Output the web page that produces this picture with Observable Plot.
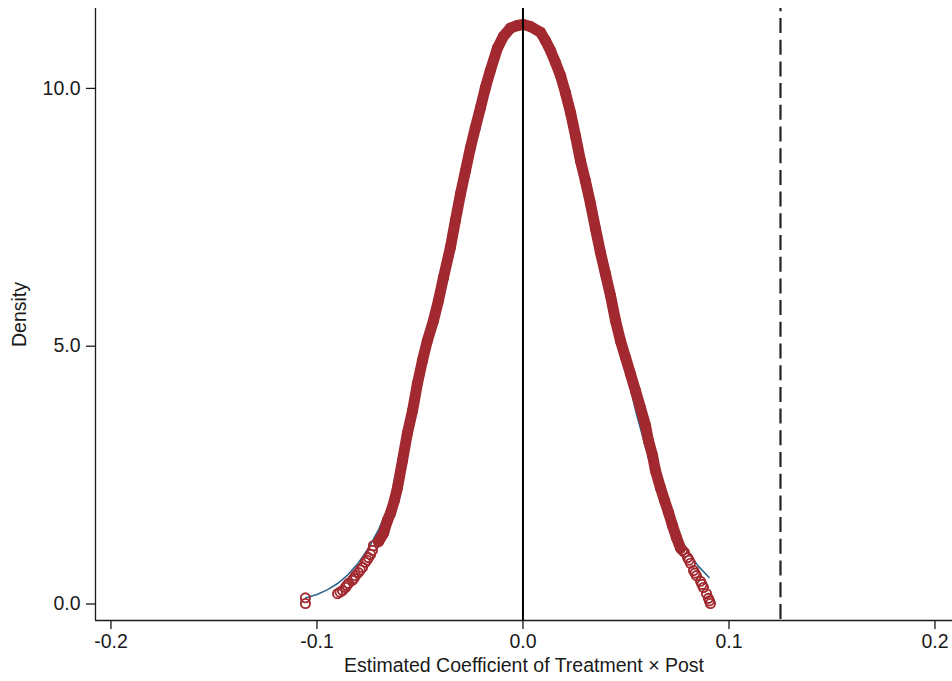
<!DOCTYPE html>
<html>
<head>
<meta charset="utf-8">
<script src="https://cdn.jsdelivr.net/npm/d3@7"></script>
<script src="https://cdn.jsdelivr.net/npm/@observablehq/plot@0.6"></script>
<style>
  html, body { margin: 0; padding: 0; background: #fff; }
  #chart svg { display: block; }
</style>
</head>
<body>
<div id="chart"></div>
<script>
// ---- data ----
const xTicks = [-0.2, -0.1, 0.0, 0.1, 0.2];
const yTicks = [0, 5, 10];
const xDomain = [-0.2075, 0.2085];
const yDomain = [-0.32, 11.55];
const zeroLine = [0];
const cutoffLine = [0.125];
const xTitle = "Estimated Coefficient of Treatment × Post";
const yTitle = "Density";

// kernel density of the estimates (red hollow circles)
const redX = [-0.1056, -0.1056, -0.0900, -0.0888, -0.0876, -0.0862, -0.0855, -0.0847, -0.0828, -0.0820,
  -0.0813, -0.0799, -0.0790, -0.0779, -0.0765, -0.0757, -0.0750, -0.0740, -0.0731, -0.0726,
  -0.0701, -0.0677, -0.0658, -0.0643, -0.0624, -0.0609, -0.0585, -0.0561, -0.0536, -0.0512,
  -0.0488, -0.0464, -0.0434, -0.0410, -0.0386, -0.0352, -0.0328, -0.0303, -0.0279, -0.0255,
  -0.0231, -0.0206, -0.0182, -0.0158, -0.0124, -0.0095, -0.0061, -0.0027, 0.0002, 0.0036,
  0.0085, 0.0109, 0.0133, 0.0158, 0.0182, 0.0206, 0.0231, 0.0255, 0.0279, 0.0303,
  0.0328, 0.0352, 0.0376, 0.0400, 0.0425, 0.0449, 0.0473, 0.0498, 0.0522, 0.0546,
  0.0570, 0.0595, 0.0609, 0.0629, 0.0643, 0.0667, 0.0687, 0.0706, 0.0726, 0.0745,
  0.0765, 0.0775, 0.0784, 0.0799, 0.0806, 0.0813, 0.0828, 0.0835, 0.0842, 0.0862,
  0.0869, 0.0876, 0.0891, 0.0900, 0.0905, 0.0910];
const redY = [0.01, 0.12, 0.20, 0.23, 0.26, 0.32, 0.36, 0.40, 0.46, 0.50,
  0.55, 0.61, 0.66, 0.71, 0.81, 0.85, 0.90, 0.96, 1.04, 1.13,
  1.21, 1.37, 1.62, 1.76, 2.01, 2.26, 2.78, 3.31, 3.75, 4.28,
  4.72, 5.11, 5.50, 5.89, 6.33, 6.92, 7.44, 7.96, 8.40, 8.85,
  9.24, 9.63, 10.02, 10.35, 10.78, 11.01, 11.17, 11.22, 11.24, 11.20,
  11.09, 10.93, 10.74, 10.50, 10.25, 9.92, 9.53, 9.08, 8.60, 8.21,
  7.76, 7.28, 6.82, 6.41, 5.98, 5.50, 5.11, 4.78, 4.46, 4.14,
  3.81, 3.46, 3.17, 2.88, 2.59, 2.26, 2.01, 1.78, 1.52, 1.29,
  1.08, 1.04, 1.00, 0.90, 0.85, 0.79, 0.65, 0.60, 0.55, 0.44,
  0.38, 0.32, 0.20, 0.11, 0.06, 0.01];
const bandRange = [-0.0705, 0.0770]; // dense part where circles merge into a band

// normal density overlay (blue line)
const normX = [-0.1056, -0.100, -0.095, -0.090, -0.085, -0.080, -0.075, -0.070, -0.065, -0.060,
  -0.055, -0.050, -0.045, -0.040, -0.035, -0.030, -0.025, -0.020, -0.015, -0.010,
  -0.005, 0.000, 0.005, 0.010, 0.015, 0.020, 0.025, 0.030, 0.035, 0.040,
  0.045, 0.050, 0.055, 0.060, 0.065, 0.070, 0.075, 0.080, 0.085, 0.090, 0.0903];
const normY = [0.116, 0.185, 0.274, 0.397, 0.566, 0.790, 1.080, 1.449, 1.906, 2.457,
  3.30, 4.40, 5.20, 6.00, 6.90, 7.95, 8.90, 9.70, 10.40, 10.90,
  11.10, 11.20, 11.17, 10.98, 10.55, 10.00, 9.17, 8.26, 7.32, 6.41,
  5.45, 4.55, 3.698, 2.970, 2.340, 1.807, 1.368, 1.016, 0.739, 0.528, 0.517];

// ---- build tables ----
const red = redX.map((x, i) => ({x, y: redY[i]}));
const band = red.filter(d => d.x >= bandRange[0] && d.x <= bandRange[1]);
const norm = normX.map((x, i) => ({x, y: normY[i]}));

const RED = "#a1292f";
const BLUE = "#2c6690";
const fmt = d => (Math.abs(d) < 1e-9 ? 0 : d).toFixed(1);

const chart = Plot.plot({
  width: 952,
  height: 681,
  marginLeft: 95,
  marginRight: 0,
  marginTop: 8,
  marginBottom: 61,
  style: {fontFamily: "'Liberation Sans', Arial, Helvetica, sans-serif", fontSize: "19.5px", background: "#fff", color: "#1a1a1a"},
  x: {domain: xDomain},
  y: {domain: yDomain},
  marks: [
    Plot.line(norm, {x: "x", y: "y", stroke: BLUE, strokeWidth: 1.6}),
    Plot.line(band, {x: "x", y: "y", stroke: RED, strokeWidth: 11, strokeLinejoin: "round", strokeLinecap: "round"}),
    Plot.dot(red, {x: "x", y: "y", r: 4.6, stroke: RED, strokeWidth: 1.9, fill: "none"}),
    Plot.ruleX(zeroLine, {stroke: "#000", strokeWidth: 2}),
    Plot.ruleX(cutoffLine, {stroke: "#222", strokeWidth: 2.2, strokeDasharray: "15,6.7", strokeDashoffset: 11.7}),
    Plot.ruleX([xDomain[0]], {stroke: "#1a1a1a", strokeWidth: 1.3}),
    Plot.ruleY([yDomain[0]], {stroke: "#1a1a1a", strokeWidth: 1.3}),
    Plot.axisX(xTicks, {tickSize: 9, tickPadding: 5, tickFormat: fmt, label: null, strokeWidth: 1.3, fontSize: 19.5}),
    Plot.axisY(yTicks, {tickSize: 9, tickPadding: 6, tickFormat: fmt, label: null, strokeWidth: 1.3, fontSize: 19.5}),
    Plot.text([xTitle], {text: d => d, frameAnchor: "bottom", dy: 45, fontSize: 19.5, textAnchor: "middle", lineAnchor: "middle"}),
    Plot.text([yTitle], {text: d => d, frameAnchor: "left", dx: -76, rotate: -90, fontSize: 19.5, textAnchor: "middle", lineAnchor: "middle"})
  ]
});
document.getElementById("chart").appendChild(chart);
</script>
</body>
</html>
